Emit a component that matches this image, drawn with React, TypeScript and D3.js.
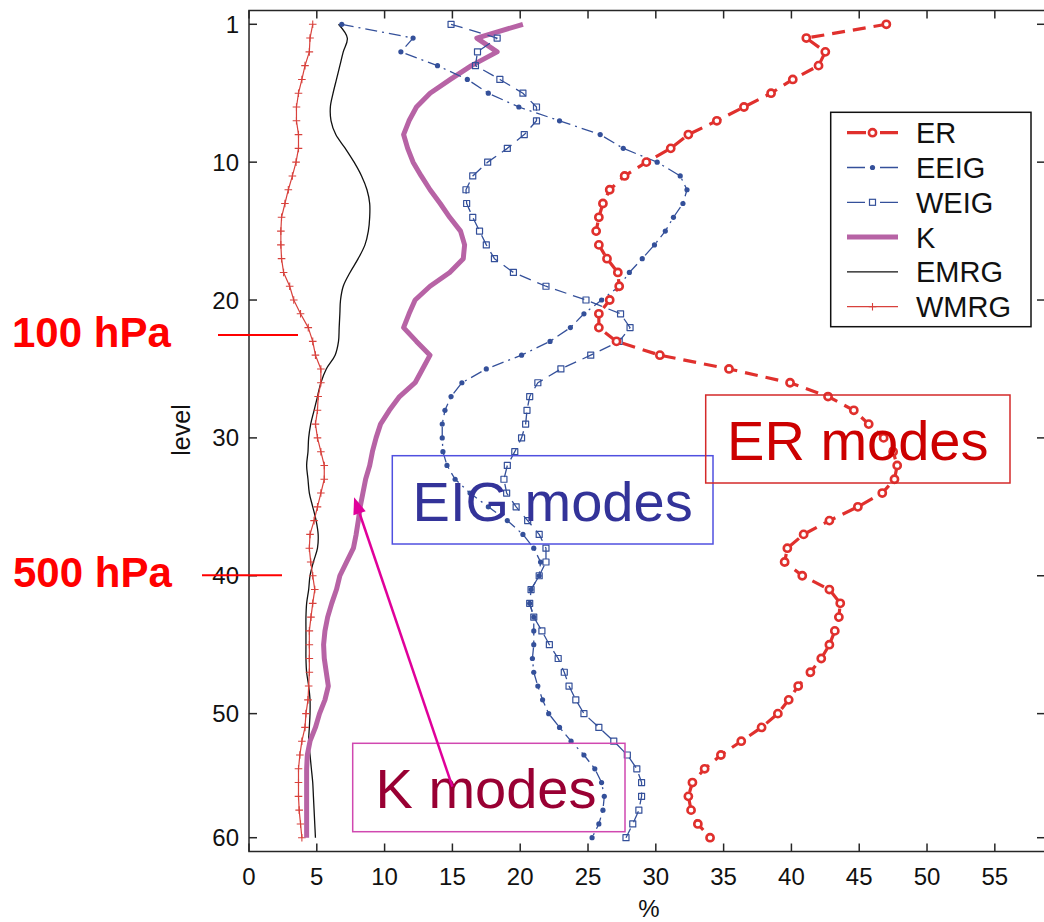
import React from "react";
import * as d3 from "d3";

// Percentage of variance per model level for each wave-mode family
const ER = [
  47.0, 41.1, 42.5, 42.0, 40.1, 38.5, 36.5, 34.5, 32.4, 31.1,
  29.3, 27.7, 26.6, 26.1, 25.8, 25.6, 25.8, 26.4, 27.2, 27.3,
  26.6, 25.8, 25.8, 27.1, 30.3, 35.4, 39.9, 42.7, 44.6, 45.7,
  46.8, 47.5, 47.8, 47.6, 46.7, 44.9, 42.8, 40.9, 39.7, 39.5,
  40.8, 42.8, 43.6, 43.5, 43.2, 42.8, 42.2, 41.4, 40.5, 39.8,
  39.0, 37.8, 36.3, 34.8, 33.6, 32.7, 32.4, 32.6, 33.1, 34.0,
];
const EEIG = [
  6.84, 12.1, 11.2, 13.9, 16.1, 17.65, 19.9, 22.9, 25.9, 27.6,
  30.1, 31.8, 32.3, 32.0, 31.3, 30.7, 29.9, 29.0, 28.05, 27.3,
  26.0, 24.7, 23.7, 22.2, 20.1, 17.5, 15.7, 14.9, 14.45, 14.25,
  14.25, 14.3, 14.6, 15.2, 16.3, 17.65, 19.05, 20.2, 21.0, 21.5,
  21.4, 20.8, 20.7, 21.0, 21.0, 21.0, 20.9, 21.0, 21.3, 21.65,
  22.1, 22.9, 23.75, 24.7, 25.5, 26.0, 26.2, 26.1, 25.8, 25.3,
];
const WEIG = [
  14.9, 18.3, 16.85, 16.7, 18.5, 20.2, 21.2, 21.2, 20.3, 19.05,
  17.6, 16.5, 16.0, 16.05, 16.5, 17.0, 17.5, 18.1, 19.5, 21.9,
  24.85, 27.4, 28.1, 27.3, 25.2, 23.0, 21.3, 20.7, 20.5, 20.4,
  20.1, 19.6, 19.05, 18.8, 19.0, 19.7, 20.55, 21.4, 21.9, 21.9,
  21.4, 20.8, 20.7, 21.0, 21.6, 22.15, 22.8, 23.25, 23.6, 24.1,
  24.7, 25.8, 26.9, 27.9, 28.6, 28.95, 28.95, 28.75, 28.3, 27.8,
];
const K = [
  20.2, 16.8, 18.3, 16.4, 14.85, 13.35, 12.35, 11.8, 11.4, 11.7,
  12.1, 12.7, 13.35, 14.1, 14.8, 15.6, 15.9, 15.8, 14.8, 13.35,
  12.25, 11.8, 11.4, 12.35, 13.35, 12.8, 12.25, 11.1, 10.35, 9.7,
  9.37, 9.1, 8.9, 8.6, 8.4, 8.2, 8.06, 7.9, 7.7, 7.2,
  6.7, 6.45, 6.1, 5.8, 5.6, 5.5, 5.55, 5.7, 5.85, 5.6,
  5.2, 4.9, 4.5, 4.3, 4.25, 4.25, 4.25, 4.25, 4.25, 4.25,
];
const EMRG = [
  6.6, 7.25, 6.95, 6.7, 6.45, 6.2, 6.0, 6.05, 6.4, 7.1,
  7.75, 8.3, 8.7, 8.9, 8.9, 8.8, 8.55, 8.05, 7.45, 6.95,
  6.75, 6.7, 6.65, 6.6, 6.35, 5.7, 5.3, 5.05, 4.8, 4.55,
  4.4, 4.35, 4.25, 4.35, 4.45, 4.7, 4.95, 5.1, 5.05, 4.75,
  4.5, 4.4, 4.25, 4.2, 4.2, 4.2, 4.2, 4.25, 4.4, 4.5,
  4.5, 4.45, 4.4, 4.5, 4.6, 4.7, 4.75, 4.8, 4.85, 4.9,
];
const WMRG = [
  4.7, 4.5, 4.45, 4.13, 3.9, 3.65, 3.5, 3.5, 3.65, 3.65,
  3.47, 3.2, 2.9, 2.65, 2.4, 2.35, 2.35, 2.4, 2.55, 3.0,
  3.3, 3.8, 4.37, 4.7, 4.9, 5.3, 5.3, 5.1, 5.05, 4.9,
  5.05, 5.3, 5.55, 5.55, 5.3, 5.05, 4.8, 4.5, 4.45, 4.55,
  4.7, 4.85, 4.7, 4.57, 4.45, 4.45, 4.45, 4.45, 4.4, 4.35,
  4.2, 4.13, 3.9, 3.75, 3.65, 3.65, 3.65, 3.7, 3.8, 3.9,
];

const levels = ER.map((_, i) => i + 1);

const xTicks = [0, 5, 10, 15, 20, 25, 30, 35, 40, 45, 50, 55];
const yTickLevels = [1, 11, 21, 31, 41, 51, 60];
const yTickLabels = ["1", "10", "20", "30", "40", "50", "60"];

const legendNames = ["ER", "EEIG", "WEIG", "K", "EMRG", "WMRG"];

const FONT = "'Liberation Sans', Arial, Helvetica, sans-serif";
const RED = "#e0302d";
const BLUE = "#34509a";
const MAUVE = "#b763a5";
const WMRG_RED = "#d8413c";

export default function App() {
  const x = d3.scaleLinear().domain([0, 58.7]).range([249, 1045]);
  const y = d3.scaleLinear().domain([0, 61]).range([10.5, 851.5]);
  const [x0, x1] = x.range();
  const [y0, y1] = y.range();

  const path = (vals: number[], curve: d3.CurveFactory = d3.curveLinear) =>
    d3
      .line<number>()
      .x((d) => x(d))
      .y((_, i) => y(levels[i]))
      .curve(curve)(vals) || "";

  // arrow pointing at the K profile
  const arrowFrom = [x(15.0), y(56.3)];
  const arrowTo = [x(7.75), y(35.3)];
  const ang = Math.atan2(arrowTo[1] - arrowFrom[1], arrowTo[0] - arrowFrom[0]);
  const ah = 17, aw = 6.5;
  const baseX = arrowTo[0] - ah * Math.cos(ang);
  const baseY = arrowTo[1] - ah * Math.sin(ang);
  const arrowHead = [
    [arrowTo[0], arrowTo[1]],
    [baseX + aw * Math.sin(ang), baseY - aw * Math.cos(ang)],
    [baseX - aw * Math.sin(ang), baseY + aw * Math.cos(ang)],
  ]
    .map((p) => p.join(","))
    .join(" ");

  const legendX = 830.7, legendY = 112.3, legendW = 200.3, legendH = 214.4;
  const rowY = (i: number) => 132.7 + i * 34.8;
  const sx1 = 847, sx2 = 898, sxm = 872.5;

  const plus = (cx: number, cy: number, s: number, key?: any) => (
    <path key={key} d={`M${cx - s},${cy}H${cx + s}M${cx},${cy - s}V${cy + s}`} stroke={WMRG_RED} strokeWidth={1.1} fill="none" />
  );

  return (
    <svg
      width={1044}
      height={922}
      viewBox="0 0 1044 922"
      style={{ position: "absolute", left: 0, top: 0, background: "#fff" }}
      fontFamily={FONT}
    >
      <rect x={0} y={0} width={1044} height={922} fill="#fff" />

      <defs>
        <clipPath id="plotArea">
          <rect x={x0} y={y0} width={x1 - x0} height={y1 - y0} />
        </clipPath>
      </defs>

      {/* axes frame */}
      <g stroke="#262626" strokeWidth={1.5} fill="none">
        <rect x={x0} y={y0} width={x1 - x0} height={y1 - y0} />
        {xTicks.map((t) => (
          <g key={"xt" + t}>
            <line x1={x(t)} x2={x(t)} y1={y1} y2={y1 - 8} />
            <line x1={x(t)} x2={x(t)} y1={y0} y2={y0 + 8} />
          </g>
        ))}
        {yTickLevels.map((t) => (
          <g key={"yt" + t}>
            <line x1={x0} x2={x0 + 8} y1={y(t)} y2={y(t)} />
            <line x1={x1} x2={x1 - 8} y1={y(t)} y2={y(t)} />
          </g>
        ))}
      </g>

      {/* tick labels */}
      <g fontSize={24} fill="#111">
        {xTicks.map((t) => (
          <text key={"xl" + t} x={x(t)} y={885} textAnchor="middle">
            {t}
          </text>
        ))}
        {yTickLevels.map((t, i) => (
          <text key={"yl" + t} x={239} y={y(t) + 8.5} textAnchor="end">
            {yTickLabels[i]}
          </text>
        ))}
        <text x={(x0 + x1) / 2 + 2} y={917} textAnchor="middle">%</text>
        <text transform={`translate(190,430) rotate(-90)`} textAnchor="middle" fontSize={25}>
          level
        </text>
      </g>

      {/* profiles */}
      <g clipPath="url(#plotArea)" fill="none" strokeLinejoin="round">
        <path d={path(EMRG, d3.curveCatmullRom)} stroke="#111" strokeWidth={1.3} />
        <path d={path(WMRG)} stroke={WMRG_RED} strokeWidth={1.2} />
        {WMRG.map((v, i) => plus(x(v), y(levels[i]), 3.8, "wp" + i))}
        <path d={path(K)} stroke={MAUVE} strokeWidth={5} />
        <path d={path(WEIG)} stroke={BLUE} strokeWidth={1.3} strokeDasharray="12 7" />
        {WEIG.map((v, i) => (
          <rect key={"ws" + i} x={x(v) - 3} y={y(levels[i]) - 3} width={6} height={6} stroke={BLUE} strokeWidth={1.2} fill="none" />
        ))}
        <path d={path(EEIG)} stroke={BLUE} strokeWidth={1.3} strokeDasharray="12 5 2 5" />
        {EEIG.map((v, i) => (
          <circle key={"ed" + i} cx={x(v)} cy={y(levels[i])} r={2.6} fill={BLUE} />
        ))}
        <path d={path(ER)} stroke={RED} strokeWidth={3.2} strokeDasharray="13 8" />
        {ER.map((v, i) => (
          <circle key={"er" + i} cx={x(v)} cy={y(levels[i])} r={3.6} stroke={RED} strokeWidth={2.6} fill="#fff" />
        ))}
      </g>

      {/* legend */}
      <g>
        <rect x={legendX} y={legendY} width={legendW} height={legendH} fill="#fff" stroke="#111" strokeWidth={1.5} />
        {/* ER */}
        <line x1={sx1} x2={sx2} y1={rowY(0)} y2={rowY(0)} stroke={RED} strokeWidth={3.2} strokeDasharray="19 14" />
        <circle cx={sxm} cy={rowY(0)} r={3.6} stroke={RED} strokeWidth={2.6} fill="#fff" />
        {/* EEIG */}
        <line x1={sx1} x2={sx2} y1={rowY(1)} y2={rowY(1)} stroke={BLUE} strokeWidth={1.3} strokeDasharray="18 15" />
        <circle cx={sxm} cy={rowY(1)} r={2.6} fill={BLUE} />
        {/* WEIG */}
        <line x1={sx1} x2={sx2} y1={rowY(2)} y2={rowY(2)} stroke={BLUE} strokeWidth={1.3} strokeDasharray="18 15" />
        <rect x={sxm - 3} y={rowY(2) - 3} width={6} height={6} stroke={BLUE} strokeWidth={1.2} fill="none" />
        {/* K */}
        <line x1={sx1} x2={sx2} y1={rowY(3)} y2={rowY(3)} stroke={MAUVE} strokeWidth={5} />
        {/* EMRG */}
        <line x1={sx1} x2={sx2} y1={rowY(4)} y2={rowY(4)} stroke="#111" strokeWidth={1.3} />
        {/* WMRG */}
        <line x1={sx1} x2={sx2} y1={rowY(5)} y2={rowY(5)} stroke={WMRG_RED} strokeWidth={1.2} />
        {plus(sxm, rowY(5), 3.8)}
        {legendNames.map((n, i) => (
          <text key={n} x={916} y={rowY(i) + 10.5} fontSize={29} fill="#111">
            {n}
          </text>
        ))}
      </g>

      {/* pressure reference marks */}
      <g>
        <line x1={218} x2={298} y1={y(23.53)} y2={y(23.53)} stroke="#ff0000" strokeWidth={2} />
        <text x={12} y={347} fontSize={42} fontWeight="bold" fill="#ff0000">100 hPa</text>
        <line x1={202} x2={282} y1={y(40.97)} y2={y(40.97)} stroke="#ff0000" strokeWidth={2} />
        <text x={13} y={587} fontSize={42} fontWeight="bold" fill="#ff0000">500 hPa</text>
      </g>

      {/* mode-family annotations */}
      <g>
        <rect x={392.3} y={455.7} width={320.7} height={88.3} fill="none" stroke="#5050e0" strokeWidth={1.5} />
        <text x={552.6} y={521} fontSize={56} fill="#333399" textAnchor="middle">EIG modes</text>

        <rect x={705.7} y={395} width={304.3} height={88} fill="none" stroke="#d42a2a" strokeWidth={1.5} />
        <text x={857.8} y={460} fontSize={56} fill="#cc0000" textAnchor="middle">ER modes</text>

        <rect x={352.7} y={743.3} width={272.3} height={88.4} fill="none" stroke="#d048b0" strokeWidth={1.5} />
        <text x={486} y={808.3} fontSize={56} fill="#990033" textAnchor="middle">K modes</text>

        <line x1={arrowFrom[0]} y1={arrowFrom[1]} x2={baseX} y2={baseY} stroke="#e0009a" strokeWidth={2.5} />
        <polygon points={arrowHead} fill="#e0009a" />
      </g>
    </svg>
  );
}
